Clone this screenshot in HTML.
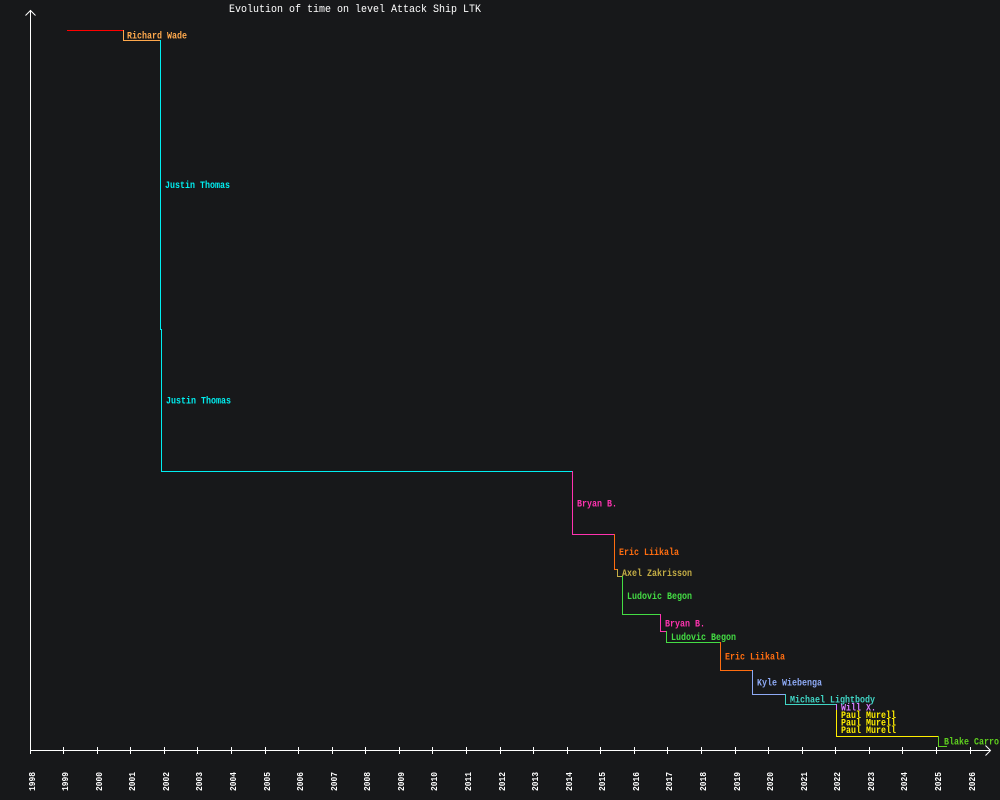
<!DOCTYPE html>
<html><head><meta charset="utf-8"><style>
html,body{margin:0;padding:0;background:#17181a;}
svg{display:block;}
text{font-family:"Liberation Mono",monospace;}
</style></head><body>
<svg width="1000" height="800" viewBox="0 0 1000 800" xmlns="http://www.w3.org/2000/svg">
<rect width="1000" height="800" fill="#17181a"/>
<text x="229" y="12" font-size="11" fill="#ffffff" textLength="252" lengthAdjust="spacingAndGlyphs">Evolution of time on level Attack Ship LTK</text>
<g stroke="#ffffff" stroke-width="1" fill="none" shape-rendering="crispEdges">
<line x1="30.5" y1="10" x2="30.5" y2="751"/>
<line x1="30" y1="750.5" x2="990" y2="750.5"/>
</g>
<g stroke="#ffffff" stroke-width="1" fill="none">
<polyline points="25.5,15.5 30.5,10.5 35.5,15.5"/>
<polyline points="985.5,745.5 990.5,750.5 985.5,755.5"/>
</g>
<g stroke="#ffffff" stroke-width="1" shape-rendering="crispEdges">
<line x1="30.5" y1="747" x2="30.5" y2="754"/><line x1="63.5" y1="747" x2="63.5" y2="754"/><line x1="97.5" y1="747" x2="97.5" y2="754"/><line x1="130.5" y1="747" x2="130.5" y2="754"/><line x1="164.5" y1="747" x2="164.5" y2="754"/><line x1="197.5" y1="747" x2="197.5" y2="754"/><line x1="231.5" y1="747" x2="231.5" y2="754"/><line x1="265.5" y1="747" x2="265.5" y2="754"/><line x1="298.5" y1="747" x2="298.5" y2="754"/><line x1="332.5" y1="747" x2="332.5" y2="754"/><line x1="365.5" y1="747" x2="365.5" y2="754"/><line x1="399.5" y1="747" x2="399.5" y2="754"/><line x1="432.5" y1="747" x2="432.5" y2="754"/><line x1="466.5" y1="747" x2="466.5" y2="754"/><line x1="500.5" y1="747" x2="500.5" y2="754"/><line x1="533.5" y1="747" x2="533.5" y2="754"/><line x1="567.5" y1="747" x2="567.5" y2="754"/><line x1="600.5" y1="747" x2="600.5" y2="754"/><line x1="634.5" y1="747" x2="634.5" y2="754"/><line x1="667.5" y1="747" x2="667.5" y2="754"/><line x1="701.5" y1="747" x2="701.5" y2="754"/><line x1="735.5" y1="747" x2="735.5" y2="754"/><line x1="768.5" y1="747" x2="768.5" y2="754"/><line x1="802.5" y1="747" x2="802.5" y2="754"/><line x1="835.5" y1="747" x2="835.5" y2="754"/><line x1="869.5" y1="747" x2="869.5" y2="754"/><line x1="902.5" y1="747" x2="902.5" y2="754"/><line x1="936.5" y1="747" x2="936.5" y2="754"/><line x1="970.5" y1="747" x2="970.5" y2="754"/>
</g>
<g fill="#ffffff" font-size="9" font-weight="bold">
<text transform="translate(35,791) rotate(-90)" textLength="19" lengthAdjust="spacingAndGlyphs">1998</text>
<text transform="translate(68,791) rotate(-90)" textLength="19" lengthAdjust="spacingAndGlyphs">1999</text>
<text transform="translate(102,791) rotate(-90)" textLength="19" lengthAdjust="spacingAndGlyphs">2000</text>
<text transform="translate(135,791) rotate(-90)" textLength="19" lengthAdjust="spacingAndGlyphs">2001</text>
<text transform="translate(169,791) rotate(-90)" textLength="19" lengthAdjust="spacingAndGlyphs">2002</text>
<text transform="translate(202,791) rotate(-90)" textLength="19" lengthAdjust="spacingAndGlyphs">2003</text>
<text transform="translate(236,791) rotate(-90)" textLength="19" lengthAdjust="spacingAndGlyphs">2004</text>
<text transform="translate(270,791) rotate(-90)" textLength="19" lengthAdjust="spacingAndGlyphs">2005</text>
<text transform="translate(303,791) rotate(-90)" textLength="19" lengthAdjust="spacingAndGlyphs">2006</text>
<text transform="translate(337,791) rotate(-90)" textLength="19" lengthAdjust="spacingAndGlyphs">2007</text>
<text transform="translate(370,791) rotate(-90)" textLength="19" lengthAdjust="spacingAndGlyphs">2008</text>
<text transform="translate(404,791) rotate(-90)" textLength="19" lengthAdjust="spacingAndGlyphs">2009</text>
<text transform="translate(437,791) rotate(-90)" textLength="19" lengthAdjust="spacingAndGlyphs">2010</text>
<text transform="translate(471,791) rotate(-90)" textLength="19" lengthAdjust="spacingAndGlyphs">2011</text>
<text transform="translate(505,791) rotate(-90)" textLength="19" lengthAdjust="spacingAndGlyphs">2012</text>
<text transform="translate(538,791) rotate(-90)" textLength="19" lengthAdjust="spacingAndGlyphs">2013</text>
<text transform="translate(572,791) rotate(-90)" textLength="19" lengthAdjust="spacingAndGlyphs">2014</text>
<text transform="translate(605,791) rotate(-90)" textLength="19" lengthAdjust="spacingAndGlyphs">2015</text>
<text transform="translate(639,791) rotate(-90)" textLength="19" lengthAdjust="spacingAndGlyphs">2016</text>
<text transform="translate(672,791) rotate(-90)" textLength="19" lengthAdjust="spacingAndGlyphs">2017</text>
<text transform="translate(706,791) rotate(-90)" textLength="19" lengthAdjust="spacingAndGlyphs">2018</text>
<text transform="translate(740,791) rotate(-90)" textLength="19" lengthAdjust="spacingAndGlyphs">2019</text>
<text transform="translate(773,791) rotate(-90)" textLength="19" lengthAdjust="spacingAndGlyphs">2020</text>
<text transform="translate(807,791) rotate(-90)" textLength="19" lengthAdjust="spacingAndGlyphs">2021</text>
<text transform="translate(840,791) rotate(-90)" textLength="19" lengthAdjust="spacingAndGlyphs">2022</text>
<text transform="translate(874,791) rotate(-90)" textLength="19" lengthAdjust="spacingAndGlyphs">2023</text>
<text transform="translate(907,791) rotate(-90)" textLength="19" lengthAdjust="spacingAndGlyphs">2024</text>
<text transform="translate(941,791) rotate(-90)" textLength="19" lengthAdjust="spacingAndGlyphs">2025</text>
<text transform="translate(975,791) rotate(-90)" textLength="19" lengthAdjust="spacingAndGlyphs">2026</text>
</g>
<g fill="none" stroke-width="1" shape-rendering="crispEdges">
<polyline stroke="#ff0000" points="67,30.5 124,30.5"/>
<polyline stroke="#ffa94d" points="123.5,30 123.5,40.5 160.5,40.5"/>
<polyline stroke="#00eef0" points="160.5,40 160.5,329.5 161.5,329.5"/>
<polyline stroke="#00eef0" points="161.5,329 161.5,471.5 572.5,471.5"/>
<polyline stroke="#ff33b0" points="572.5,471 572.5,534.5 614.5,534.5"/>
<polyline stroke="#ff6d10" points="614.5,534 614.5,569.5 617.5,569.5"/>
<polyline stroke="#c4ad45" points="617.5,569 617.5,576.5 622.5,576.5"/>
<polyline stroke="#44dd44" points="622.5,576 622.5,614.5 660.5,614.5"/>
<polyline stroke="#ff33b0" points="660.5,614 660.5,631.5 666.5,631.5"/>
<polyline stroke="#44dd44" points="666.5,631 666.5,642.5 720.5,642.5"/>
<polyline stroke="#ff6d10" points="720.5,642 720.5,670.5 752.5,670.5"/>
<polyline stroke="#8eaaf5" points="752.5,670 752.5,694.5 785.5,694.5"/>
<polyline stroke="#40d4c4" points="785.5,694 785.5,704.5 836.5,704.5"/>
<polyline stroke="#d77cff" points="836.5,704 836.5,710.5"/>
<polyline stroke="#ffee00" points="836.5,710 836.5,736.5 938.5,736.5"/>
<polyline stroke="#5fcf1f" points="938.5,736 938.5,746.5 947,746.5"/>
</g>
<g font-size="10" font-weight="bold">
<text x="127" y="38.5" fill="#ffa94d" textLength="60" lengthAdjust="spacingAndGlyphs">Richard Wade</text>
<text x="165" y="188" fill="#00eef0" textLength="65" lengthAdjust="spacingAndGlyphs">Justin Thomas</text>
<text x="166" y="403.5" fill="#00eef0" textLength="65" lengthAdjust="spacingAndGlyphs">Justin Thomas</text>
<text x="577" y="506.5" fill="#ff33b0" textLength="40" lengthAdjust="spacingAndGlyphs">Bryan B.</text>
<text x="619" y="555" fill="#ff6d10" textLength="60" lengthAdjust="spacingAndGlyphs">Eric Liikala</text>
<text x="622" y="576" fill="#c4ad45" textLength="70" lengthAdjust="spacingAndGlyphs">Axel Zakrisson</text>
<text x="627" y="598.8" fill="#44dd44" textLength="65" lengthAdjust="spacingAndGlyphs">Ludovic Begon</text>
<text x="665" y="626.5" fill="#ff33b0" textLength="40" lengthAdjust="spacingAndGlyphs">Bryan B.</text>
<text x="671" y="640" fill="#44dd44" textLength="65" lengthAdjust="spacingAndGlyphs">Ludovic Begon</text>
<text x="725" y="659.5" fill="#ff6d10" textLength="60" lengthAdjust="spacingAndGlyphs">Eric Liikala</text>
<text x="757" y="685.5" fill="#8eaaf5" textLength="65" lengthAdjust="spacingAndGlyphs">Kyle Wiebenga</text>
<text x="790" y="702.5" fill="#40d4c4" textLength="85" lengthAdjust="spacingAndGlyphs">Michael Lightbody</text>
<text x="841" y="710.5" fill="#d77cff" textLength="35" lengthAdjust="spacingAndGlyphs">Will X.</text>
<text x="841" y="718" fill="#ffee00" textLength="55" lengthAdjust="spacingAndGlyphs">Paul Murell</text>
<text x="841" y="725.5" fill="#ffee00" textLength="55" lengthAdjust="spacingAndGlyphs">Paul Murell</text>
<text x="841" y="733" fill="#ffee00" textLength="55" lengthAdjust="spacingAndGlyphs">Paul Murell</text>
<text x="944" y="744.5" fill="#5fcf1f" textLength="65" lengthAdjust="spacingAndGlyphs">Blake Carroll</text>
</g>
</svg>
</body></html>
